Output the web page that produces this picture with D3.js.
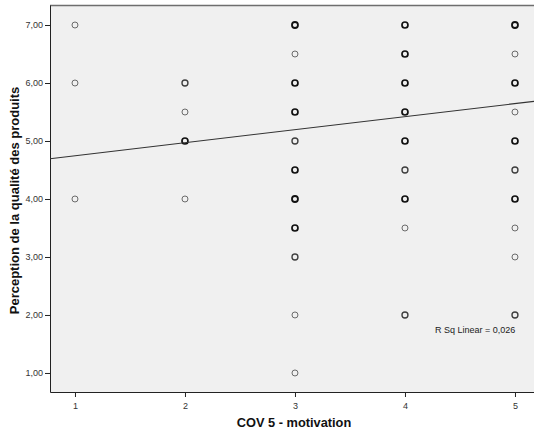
<!DOCTYPE html>
<html>
<head>
<meta charset="utf-8">
<script src="https://cdn.jsdelivr.net/npm/d3@7"></script>
<style>
  html, body { margin: 0; padding: 0; background: #fff; }
  svg { display: block; font-family: "Liberation Sans", Arial, sans-serif; }
</style>
</head>
<body>
<svg id="chart" width="534" height="431"></svg>
<script>
// Scatter of product-quality perception against motivation score (COV 5)
const motivation = [1, 1, 1,
  2, 2, 2, 2,
  3, 3, 3, 3, 3, 3, 3, 3, 3, 3, 3,
  4, 4, 4, 4, 4, 4, 4, 4, 4,
  5, 5, 5, 5, 5, 5, 5, 5, 5, 5];
const perception = [7, 6, 4,
  6, 5.5, 5, 4,
  7, 6.5, 6, 5.5, 5, 4.5, 4, 3.5, 3, 2, 1,
  7, 6.5, 6, 5.5, 5, 4.5, 4, 3.5, 2,
  7, 6.5, 6, 5.5, 5, 4.5, 4, 3.5, 3, 2];
// number of respondents sharing each (motivation, perception) pair
const respondents = [1, 1, 1,
  2, 1, 3, 1,
  4, 1, 3, 3, 2, 3, 4, 3, 2, 1, 1,
  3, 3, 3, 3, 3, 2, 3, 1, 2,
  4, 1, 3, 1, 3, 2, 3, 1, 1, 2];

const xTicks = [1, 2, 3, 4, 5];
const yTicks = [1, 2, 3, 4, 5, 6, 7];
const fitIntercept = 4.52;
const fitSlope = 0.225;
const rSquared = "0,026";

const svg = d3.select("#chart");
const W = 534, H = 431;
const m = { left: 50, right: 0, top: 5, bottom: 39 };

const x = d3.scaleLinear().domain([0.773, 5.173]).range([m.left, W - m.right]);
const y = d3.scaleLinear().domain([0.672, 7.345]).range([H - m.bottom, m.top]);

// plot background
svg.append("rect")
  .attr("x", m.left).attr("y", m.top)
  .attr("width", W - m.right - m.left).attr("height", H - m.bottom - m.top)
  .attr("fill", "#f0f0f0");

// top frame line
svg.append("line")
  .attr("x1", m.left).attr("x2", W - m.right)
  .attr("y1", m.top + 0.5).attr("y2", m.top + 0.5)
  .attr("stroke", "#6e6e6e").attr("stroke-width", 1.5);

const fmt = d => d.toFixed(2).replace(".", ",");

// y axis
const yAxis = svg.append("g")
  .attr("transform", `translate(${m.left},0)`)
  .call(d3.axisLeft(y).tickValues(yTicks).tickFormat(fmt).tickSize(5).tickPadding(2).tickSizeOuter(0));
yAxis.select(".domain").attr("stroke", "#222");
yAxis.selectAll(".tick line").attr("stroke", "#222");
yAxis.selectAll("text").attr("font-size", 9).attr("fill", "#333")
  .attr("font-family", "Liberation Sans, Arial, sans-serif");

// x axis
const xAxis = svg.append("g")
  .attr("transform", `translate(0,${H - m.bottom})`)
  .call(d3.axisBottom(x).tickValues(xTicks).tickFormat(d3.format("d")).tickSize(5).tickPadding(6).tickSizeOuter(0));
xAxis.select(".domain").attr("stroke", "#222");
xAxis.selectAll(".tick line").attr("stroke", "#222");
xAxis.selectAll("text").attr("font-size", 9).attr("fill", "#333")
  .attr("font-family", "Liberation Sans, Arial, sans-serif");

// axis titles
svg.append("text")
  .attr("x", (m.left + W - m.right) / 2 + 2).attr("y", 427)
  .attr("text-anchor", "middle")
  .attr("font-size", 12.8).attr("font-weight", "bold").attr("fill", "#111")
  .text("COV 5 - motivation");

svg.append("text")
  .attr("transform", `translate(19,${(m.top + H - m.bottom) / 2 + 2}) rotate(-90)`)
  .attr("text-anchor", "middle")
  .attr("font-size", 13).attr("font-weight", "bold").attr("fill", "#111")
  .text("Perception de la qualité des produits");

// points: stacked responses render darker and heavier
const pts = motivation.map((mv, i) => ({ mv, pv: perception[i], n: respondents[i] }));
const shade = d3.scaleLinear().domain([1, 3]).range(["#6a6a6a", "#111111"]).clamp(true);
svg.append("g").selectAll("circle").data(pts).join("circle")
  .attr("cx", d => x(d.mv)).attr("cy", d => y(d.pv))
  .attr("r", 3)
  .attr("fill", "none")
  .attr("stroke", d => shade(d.n))
  .attr("stroke-width", d => Math.min(1 + 0.35 * (d.n - 1), 1.8));

// linear fit line across the plot area
const x0 = x.domain()[0], x1 = x.domain()[1];
svg.append("line")
  .attr("x1", x(x0)).attr("y1", y(fitIntercept + fitSlope * x0))
  .attr("x2", x(x1)).attr("y2", y(fitIntercept + fitSlope * x1))
  .attr("stroke", "#333").attr("stroke-width", 1.1);

// fit annotation
svg.append("text")
  .attr("x", 435).attr("y", 333)
  .attr("font-size", 9).attr("fill", "#222")
  .text(`R Sq Linear = ${rSquared}`);
</script>
</body>
</html>
